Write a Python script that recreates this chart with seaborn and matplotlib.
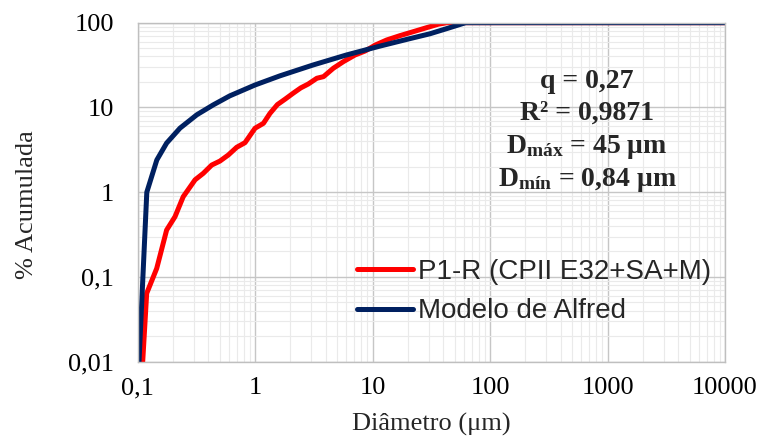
import matplotlib
matplotlib.use("Agg")
import matplotlib.pyplot as plt
import pandas as pd
import seaborn as sns
from matplotlib.lines import Line2D
from matplotlib.ticker import FixedLocator, FixedFormatter, LogLocator, NullFormatter

# Cumulative particle size distribution of the P1-R mix (µm, % passing)
diam_p1 = [0.1107, 0.1197, 0.1457, 0.177, 0.2085, 0.245, 0.309, 0.363, 0.428,
           0.503, 0.593, 0.699, 0.822, 1.0, 1.18, 1.34, 1.55, 1.80, 2.11,
           2.45, 2.84, 3.36, 3.83, 4.64, 5.65, 7.10, 8.67, 10.6, 13.2, 17.1,
           22.2, 28.8, 36.3, 43.0, 10000]
acum_p1 = [0.01, 0.064, 0.126, 0.358, 0.514, 0.885, 1.40, 1.67, 2.09,
           2.33, 2.75, 3.39, 3.84, 5.68, 6.5, 8.5, 10.8, 12.5, 14.7,
           17.0, 18.9, 22.1, 23.1, 29.0, 34.7, 41.6, 46.4, 54.6, 62.5, 70.3,
           78.3, 87.3, 96.0, 100, 100]

# Reference packing curve (Alfred model)
diam_alfred = [0.103, 0.12, 0.146, 0.177, 0.23, 0.32, 0.44, 0.61, 1.0, 1.63,
               3.12, 6.0, 11.6, 20.0, 30.8, 45.0, 62.0, 10000]
acum_alfred = [0.01, 1.0, 2.4, 3.8, 5.7, 8.2, 10.7, 13.7, 18.4, 23.6,
               31.7, 41.6, 53.0, 64.0, 74.0, 87.0, 100, 100]

series_names = ["P1-R (CPII E32+SA+M)", "Modelo de Alfred"]
series_colors = ["#FF0000", "#002060"]

x_ticks = [0.1, 1, 10, 100, 1000, 10000]
x_tick_labels = ["0,1", "1", "10", "100", "1000", "10000"]
y_ticks = [0.01, 0.1, 1, 10, 100]
y_tick_labels = ["0,01", "0,1", "1", "10", "100"]

fit_lines = [
    "q = 0,27",
    "R² = 0,9871",
    r"$\mathbf{D}_{\mathbf{máx}}$ = 45 μm",
    r"$\mathbf{D}_{\mathbf{mín}}$ = 0,84 μm",
]

sns.set_style("white")
plt.rcParams["font.family"] = ["Liberation Serif", "DejaVu Serif"]
plt.rcParams["mathtext.fontset"] = "custom"
plt.rcParams["mathtext.rm"] = "Liberation Serif"
plt.rcParams["mathtext.bf"] = "Liberation Serif:bold"
plt.rcParams["mathtext.it"] = "Liberation Serif:italic"

df = pd.concat([
    pd.DataFrame({"Diâmetro": diam_p1, "Acumulada": acum_p1, "Série": series_names[0]}),
    pd.DataFrame({"Diâmetro": diam_alfred, "Acumulada": acum_alfred, "Série": series_names[1]}),
], ignore_index=True)

W, H = 760, 445
fig = plt.figure(figsize=(W / 100, H / 100), dpi=100)
ax_l, ax_r, ax_t, ax_b = 137.5, 725.0, 22.7, 361.7
ax = fig.add_axes([ax_l / W, 1 - ax_b / H, (ax_r - ax_l) / W, (ax_b - ax_t) / H])

ax.set_xscale("log")
ax.set_yscale("log")
ax.set_xlim(0.1, 10000)
ax.set_ylim(0.01, 100)

sns.lineplot(data=df, x="Diâmetro", y="Acumulada", hue="Série",
             hue_order=series_names, palette=series_colors,
             estimator=None, sort=False, linewidth=3.6, legend=False, ax=ax,
             solid_capstyle="round", solid_joinstyle="round")

# Grid: darker decades, light sub-decade lines
ax.xaxis.set_major_locator(FixedLocator(x_ticks))
ax.xaxis.set_major_formatter(FixedFormatter(x_tick_labels))
ax.yaxis.set_major_locator(FixedLocator(y_ticks))
ax.yaxis.set_major_formatter(FixedFormatter(y_tick_labels))
ax.xaxis.set_minor_locator(LogLocator(base=10, subs=range(2, 10), numticks=20))
ax.yaxis.set_minor_locator(LogLocator(base=10, subs=range(2, 10), numticks=20))
ax.xaxis.set_minor_formatter(NullFormatter())
ax.yaxis.set_minor_formatter(NullFormatter())
ax.grid(which="major", color="#C6C6C6", linewidth=1.0)
ax.grid(which="minor", color="#EAEAEA", linewidth=0.8)
ax.set_axisbelow(True)
for sp in ax.spines.values():
    sp.set_color("#BFBFBF")
    sp.set_linewidth(1.0)

ax.tick_params(axis="both", which="both", length=0, labelsize=19, colors="black")
ax.tick_params(axis="x", pad=11)
ax.tick_params(axis="y", pad=17)

ax.set_xlabel("Diâmetro (μm)", fontsize=19)
ax.set_ylabel("% Acumulada", fontsize=19)
ax.xaxis.set_label_coords(0.5, (ax_b - 413) / (ax_b - ax_t))
ax.yaxis.set_label_coords((38 - ax_l) / (ax_r - ax_l), (ax_b - 205) / (ax_b - ax_t))

handles = [Line2D([], [], color=c, linewidth=3.6, solid_capstyle="round")
           for c in series_colors]
ax.legend(handles, series_names, loc="center left", frameon=False,
          bbox_to_anchor=(357 / W, 1 - 291.5 / H), bbox_transform=fig.transFigure,
          prop={"family": "Liberation Sans", "size": 20},
          handlelength=2.0, handletextpad=0.18, labelspacing=0.5,
          borderpad=0, borderaxespad=0)

for text, yc in zip(fit_lines, [82, 113, 147, 180]):
    fig.text(587 / W, 1 - yc / H, text, ha="center", va="center",
             fontsize=20, fontweight="bold")

fig.savefig("out.png", dpi=100)
